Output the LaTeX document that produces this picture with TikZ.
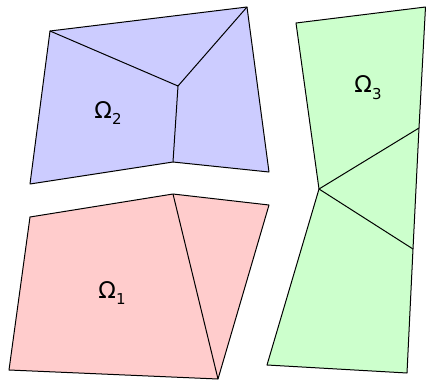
\documentclass[tikz,border=0pt]{standalone}
\usepackage{fontspec}
\setmainfont{DejaVu Sans}
\tikzset{
  domlabel/.style={font=\fontsize{23}{27}\selectfont},
}
\newcommand{\dom}[1]{Ω\raisebox{-0.3em}{\fontsize{15}{18}\selectfont #1}}
\begin{document}
\begin{tikzpicture}[x=1pt,y=-1pt,line width=1pt,line join=round]
	\useasboundingbox (0,0) rectangle (426,381);
	%corners
	\coordinate (b1) at (50,31);
	\coordinate (b2) at (247,7);
	\coordinate (b3) at (269,172);
	\coordinate (b4) at (173,162);
	\coordinate (b5) at (30,184);
	\coordinate (bc) at (178,86);
	\coordinate (r1) at (30,217);
	\coordinate (r2) at (173,194);
	\coordinate (r3) at (269,205);
	\coordinate (r4) at (218,379);
	\coordinate (r5) at (9,370);
	\coordinate (g1) at (296,23);
	\coordinate (g2) at (425.5,7);
	\coordinate (g3) at (419,128);
	\coordinate (g4) at (413,249);
	\coordinate (g5) at (407,373);
	\coordinate (g6) at (267,365);
	\coordinate (gc) at (319,189);
	%subdomains
	\filldraw[fill=blue!20!white,draw=black] (b1) -- (b2) -- (b3) -- (b4) -- (b5) -- cycle;
	\filldraw[fill=red!20!white,draw=black] (r1) -- (r2) -- (r3) -- (r4) -- (r5) -- cycle;
	\filldraw[fill=green!20!white,draw=black] (g1) -- (g2) -- (g3) -- (g4) -- (g5) -- (g6) -- (gc) -- cycle;
	%inner edges
	\draw (b1) -- (bc) -- (b2);
	\draw (bc) -- (b4);
	\draw (r2) -- (r4);
	\draw (g3) -- (gc) -- (g4);
	%text
	\node[domlabel] (om2) at (108,113) {\dom{2}};
	\node[domlabel] (om1) at (112,293) {\dom{1}};
	\node[domlabel] (om3) at (368,88) {\dom{3}};
\end{tikzpicture}
\end{document}
